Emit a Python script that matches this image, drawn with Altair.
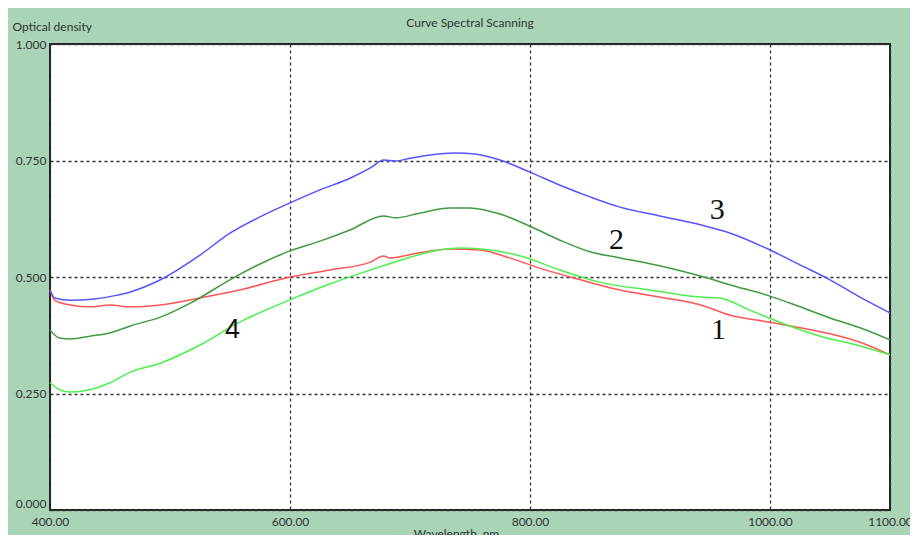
import altair as alt
import pandas as pd

# Curve 1 (red)
wl1 = [400, 404, 417, 433, 450, 467, 492, 525, 558, 600, 633, 667, 678, 683, 708, 733, 758, 783, 808, 842, 875, 908, 942, 967, 1000, 1025, 1050, 1075, 1100]
od1 = [0.472, 0.450, 0.440, 0.436, 0.440, 0.436, 0.440, 0.455, 0.472, 0.500, 0.515, 0.532, 0.545, 0.541, 0.552, 0.560, 0.558, 0.541, 0.519, 0.494, 0.472, 0.457, 0.440, 0.418, 0.403, 0.391, 0.378, 0.360, 0.333]

# Curve 2 (dark green)
wl2 = [400, 408, 417, 433, 450, 467, 492, 517, 550, 575, 600, 625, 650, 678, 688, 708, 733, 750, 775, 800, 825, 850, 875, 908, 942, 967, 1000, 1025, 1050, 1075, 1100]
od2 = [0.386, 0.369, 0.367, 0.373, 0.380, 0.395, 0.414, 0.444, 0.494, 0.528, 0.556, 0.577, 0.601, 0.631, 0.627, 0.637, 0.648, 0.648, 0.635, 0.609, 0.579, 0.554, 0.541, 0.524, 0.502, 0.483, 0.459, 0.436, 0.412, 0.391, 0.365]

# Curve 3 (blue)
wl3 = [400, 404, 417, 437, 454, 467, 492, 525, 550, 575, 600, 625, 650, 667, 678, 688, 700, 717, 738, 754, 775, 800, 825, 850, 875, 908, 942, 967, 1000, 1025, 1050, 1075, 1100]
od3 = [0.472, 0.455, 0.450, 0.453, 0.460, 0.468, 0.494, 0.547, 0.594, 0.629, 0.659, 0.687, 0.712, 0.734, 0.751, 0.749, 0.755, 0.762, 0.766, 0.764, 0.751, 0.725, 0.697, 0.672, 0.650, 0.631, 0.612, 0.594, 0.558, 0.526, 0.494, 0.457, 0.423]

# Curve 4 (light green)
wl4 = [400, 408, 417, 433, 450, 467, 492, 525, 558, 600, 633, 667, 692, 717, 742, 767, 792, 825, 858, 900, 942, 958, 983, 1008, 1042, 1075, 1100]
od4 = [0.273, 0.258, 0.253, 0.258, 0.273, 0.296, 0.315, 0.354, 0.403, 0.451, 0.485, 0.515, 0.536, 0.554, 0.562, 0.558, 0.545, 0.515, 0.489, 0.472, 0.457, 0.455, 0.429, 0.403, 0.373, 0.352, 0.333]

series_names = ["1", "2", "3", "4"]
series_colors = ["#ff5555", "#3f9b3f", "#5555ff", "#4cf04c"]

# Curve number labels
label_text = ["3", "2", "1"]
label_wl = [956, 872, 957]
label_od = [0.644, 0.579, 0.386]
label4_text = ["4"]
label4_wl = [552]
label4_od = [0.386]

rows = []
for name, wl, od in zip(series_names, [wl1, wl2, wl3, wl4], [od1, od2, od3, od4]):
    for w, v in zip(wl, od):
        rows.append({"series": name, "wl": w, "od": v})
df = pd.DataFrame(rows)

xscale = alt.Scale(domain=[400, 1100], nice=False, zero=False)
yscale = alt.Scale(domain=[0, 1], nice=False)

xaxis = alt.Axis(
    values=[400, 600, 800, 1000, 1100], format=".2f", title="Wavelength, nm",
    grid=True, gridColor="#333333", gridDash=[3, 3], gridWidth=1.3,
    domain=False, ticks=False, labelPadding=6, labelFont="Lato", labelFontSize=12,
    labelColor="#333333", titleFont="Lato", titleFontSize=12, titleFontWeight="normal",
    titleColor="#333333", titlePadding=1, titleX=406, labelFlush=False,
)
yaxis = alt.Axis(
    values=[0, 0.25, 0.5, 0.75, 1.0], format=".3f", title="Optical density",
    grid=True, gridColor="#333333", gridDash=[3, 3], gridWidth=1.3,
    domain=False, ticks=False, labelPadding=4, labelFont="Lato", labelFontSize=12,
    labelBaseline=alt.expr("datum.value == 0 ? 'bottom' : 'middle'"),
    labelColor="#333333", titleFont="Lato", titleFontSize=12, titleFontWeight="normal",
    titleColor="#333333", titleAngle=0, titleAlign="left", titleBaseline="middle",
    titleX=-38, titleY=-18,
)

lines = alt.Chart(df).mark_line(strokeWidth=1.5, interpolate="monotone").encode(
    x=alt.X("wl:Q", scale=xscale, axis=xaxis),
    y=alt.Y("od:Q", scale=yscale, axis=yaxis),
    color=alt.Color("series:N", scale=alt.Scale(domain=series_names, range=series_colors), legend=None),
    detail="series:N",
)

lab_df = pd.DataFrame({"t": label_text, "wl": label_wl, "od": label_od})
labels = alt.Chart(lab_df).mark_text(font="Liberation Serif", fontSize=30, color="#111111", baseline="middle").encode(
    x=alt.X("wl:Q", scale=xscale), y=alt.Y("od:Q", scale=yscale), text="t:N"
)
lab4_df = pd.DataFrame({"t": label4_text, "wl": label4_wl, "od": label4_od})
labels4 = alt.Chart(lab4_df).mark_text(font="Liberation Sans", fontSize=27, color="#111111", baseline="middle").encode(
    x=alt.X("wl:Q", scale=xscale), y=alt.Y("od:Q", scale=yscale), text="t:N"
)

chart = alt.layer(lines, labels, labels4).properties(
    width=840, height=466,
    title=alt.TitleParams("Curve Spectral Scanning", font="Lato", fontSize=12, fontWeight="normal",
                          color="#333333", anchor="middle", offset=-10),
    autosize=alt.AutoSizeParams(type="none"),
    padding={"left": 42, "top": 36, "right": 20, "bottom": 25},
    background="#a9d4b7",
).configure_view(fill="white", stroke="#222222", strokeWidth=2)

chart.save("out.html", embed_options={"renderer": "svg", "actions": False})
